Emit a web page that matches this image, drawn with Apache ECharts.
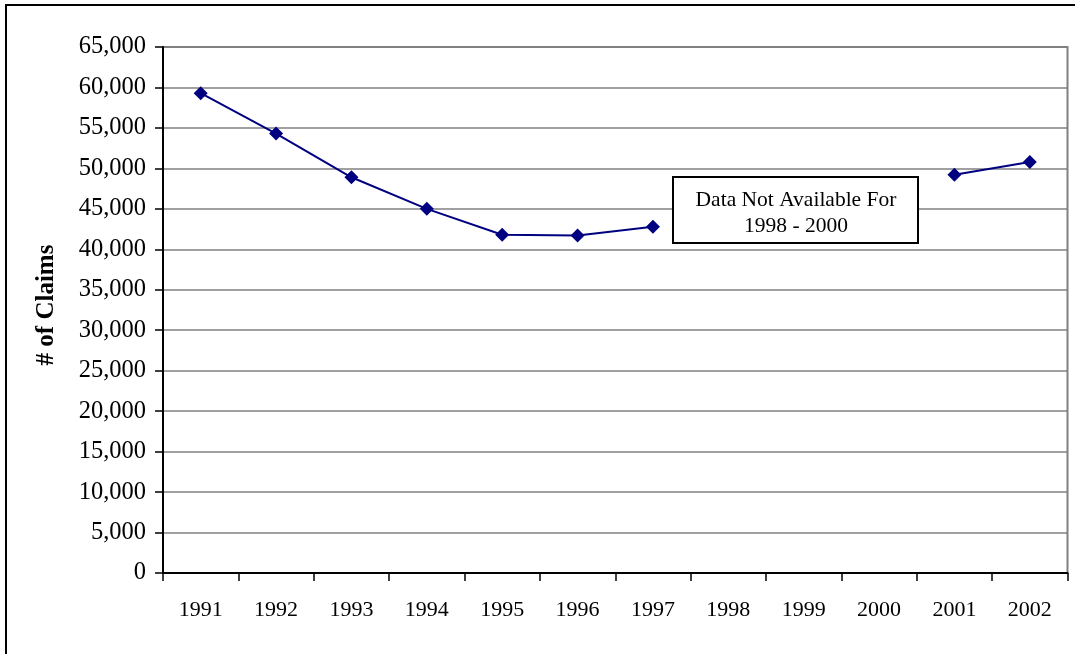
<!DOCTYPE html>
<html>
<head>
<meta charset="utf-8">
<script src="https://cdn.jsdelivr.net/npm/echarts@6/dist/echarts.min.js"></script>
<style>
  html, body { margin: 0; padding: 0; background: #fff; }
  #chart { width: 1075px; height: 654px; }
</style>
</head>
<body>
<div id="chart"></div>
<script>
// years on the x axis
var years = ["1991", "1992", "1993", "1994", "1995", "1996", "1997", "1998", "1999", "2000", "2001", "2002"];
// number of claims, no data for 1998 - 2000
var claims = [59300, 54300, 48900, 45000, 41800, 41700, 42800, null, null, null, 49200, 50800];
var noteLines = ["Data Not Available For", "1998 - 2000"];

var serif = "Liberation Serif, Times New Roman, serif";
var chart = echarts.init(document.getElementById("chart"));

chart.setOption({
  animation: false,
  grid: {
    left: 163,
    right: 7.5,
    top: 47,
    bottom: 81,
    show: true,
    borderColor: "#808080",
    borderWidth: 2
  },
  xAxis: {
    type: "category",
    data: years,
    boundaryGap: true,
    axisLine: { lineStyle: { color: "#000", width: 2 } },
    axisTick: { show: true, interval: 0, length: 8, lineStyle: { color: "#000", width: 1.5 } },
    axisLabel: { interval: 0, margin: 26, color: "#000", fontFamily: serif, fontSize: 22 },
    splitLine: { show: false }
  },
  yAxis: {
    type: "value",
    min: 0,
    max: 65000,
    interval: 5000,
    name: "# of Claims",
    nameLocation: "middle",
    nameGap: 104,
    nameTextStyle: { color: "#000", fontFamily: serif, fontSize: 25, fontWeight: "bold", padding: [0, 0, 0, 10] },
    axisLine: { show: true, lineStyle: { color: "#000", width: 2 } },
    axisTick: { show: true, length: 8, lineStyle: { color: "#000", width: 1.5 } },
    axisLabel: {
      margin: 17,
      color: "#000",
      fontFamily: serif,
      fontSize: 24.5,
      formatter: function (v) { return v.toLocaleString("en-US"); }
    },
    splitLine: { lineStyle: { color: "#808080", width: 1.5 } }
  },
  series: [{
    type: "line",
    data: claims,
    connectNulls: false,
    symbol: "diamond",
    symbolSize: 14,
    showAllSymbol: true,
    lineStyle: { color: "#000080", width: 2 },
    itemStyle: { color: "#000080" }
  }],
  graphic: [
    // outer frame (top and left edges visible)
    { type: "line", shape: { x1: 5, y1: 5, x2: 1075, y2: 5 }, style: { stroke: "#000", lineWidth: 2 } },
    { type: "line", shape: { x1: 6, y1: 5, x2: 6, y2: 654 }, style: { stroke: "#000", lineWidth: 2 } },
    // annotation box
    {
      type: "rect",
      shape: { x: 673, y: 177, width: 245, height: 66 },
      style: { fill: "#fff", stroke: "#000", lineWidth: 2 },
      z: 100
    },
    {
      type: "text",
      x: 796,
      y: 213,
      z: 101,
      style: {
        text: noteLines.join("\n"),
        fill: "#000",
        font: "21.5px " + serif,
        lineHeight: 26,
        align: "center",
        verticalAlign: "middle"
      }
    }
  ]
});
</script>
</body>
</html>
